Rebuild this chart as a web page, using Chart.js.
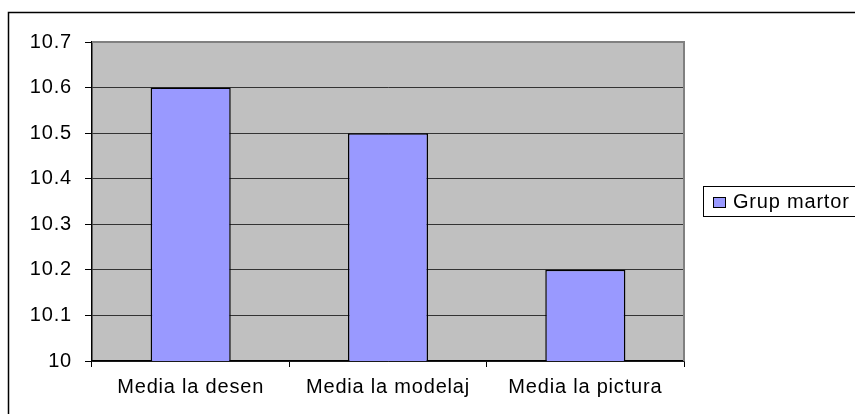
<!DOCTYPE html>
<html>
<head>
<meta charset="utf-8">
<script src="https://cdn.jsdelivr.net/npm/chart.js@4/dist/chart.umd.min.js"></script>
<style>
  html, body { margin: 0; padding: 0; background: #fff; }
  #wrap { width: 855px; height: 414px; position: relative; }
</style>
</head>
<body>
<div id="wrap"><canvas id="barChart"></canvas></div>
<script>
// date
const categories = ['Media la desen', 'Media la modelaj', 'Media la pictura'];
const seriesName = 'Grup martor';
const seriesValues = [10.6, 10.5, 10.2];
const yTickValues = [10, 10.1, 10.2, 10.3, 10.4, 10.5, 10.6, 10.7];

const fontFamily = '"Liberation Sans", Arial, sans-serif';
const fontSize = 20;

// textul din original e putin latit, imitam cu o spatiere mica intre litere
const wideText = {
    id: 'wideText',
    beforeInit(chart) { chart.ctx.letterSpacing = '0.8px'; },
    beforeDraw(chart) { chart.ctx.letterSpacing = '0.8px'; }
};

// fundal gri pentru zona graficului + chenarul exterior
const plotBackground = {
    id: 'plotBackground',
    beforeDraw(chart) {
        const { ctx, chartArea: a } = chart;
        ctx.save();
        ctx.fillStyle = '#C0C0C0';
        ctx.fillRect(a.left, a.top, a.right - a.left, a.bottom - a.top);
        ctx.restore();
    },
    afterDraw(chart) {
        const { ctx, chartArea: a } = chart;
        ctx.save();
        // chenar gri sus si dreapta
        ctx.strokeStyle = '#808080';
        ctx.lineWidth = 2;
        ctx.beginPath();
        ctx.moveTo(a.left, a.top);
        ctx.lineTo(a.right, a.top);
        ctx.lineTo(a.right, a.bottom);
        ctx.stroke();
        // chenar exterior negru
        ctx.strokeStyle = '#000';
        ctx.lineWidth = 1.5;
        ctx.strokeRect(8.5, 12.5, 1000, 600);
        ctx.restore();
    }
};

// legenda cu chenar, ca in original
const boxedLegend = {
    id: 'boxedLegend',
    afterDraw(chart) {
        const { ctx } = chart;
        const ds = chart.data.datasets[0];
        ctx.save();
        ctx.fillStyle = '#fff';
        ctx.fillRect(703, 186, 200, 30);
        ctx.strokeStyle = '#000';
        ctx.lineWidth = 1;
        ctx.strokeRect(703.5, 186.5, 200, 30);
        ctx.fillStyle = ds.backgroundColor;
        ctx.fillRect(713, 197, 12, 10);
        ctx.strokeRect(713.5, 197.5, 12, 10);
        ctx.fillStyle = '#000';
        ctx.font = fontSize + 'px ' + fontFamily;
        ctx.textBaseline = 'alphabetic';
        ctx.fillText(ds.label, 733, 208);
        ctx.restore();
    }
};

new Chart(document.getElementById('barChart'), {
    type: 'bar',
    data: {
        labels: categories,
        datasets: [{
            label: seriesName,
            data: seriesValues,
            backgroundColor: '#9999FF',
            borderColor: '#000',
            borderWidth: 1.5,
            barPercentage: 0.406,
            categoryPercentage: 1
        }]
    },
    options: {
        responsive: true,
        maintainAspectRatio: false,
        animation: false,
        layout: { padding: { left: 0, top: 42, right: 171, bottom: 0 } },
        plugins: {
            legend: { display: false },
            tooltip: { enabled: false }
        },
        scales: {
            x: {
                offset: true,
                grid: {
                    offset: true,
                    drawOnChartArea: false,
                    drawTicks: true,
                    tickLength: 6,
                    color: '#000'
                },
                border: { color: '#000', width: 1.5 },
                ticks: {
                    color: '#000',
                    padding: 8,
                    maxRotation: 0,
                    font: { family: fontFamily, size: fontSize }
                },
                afterFit(axis) { axis.height = 53; }
            },
            y: {
                min: 10,
                max: 10.7,
                grid: {
                    color: '#333',
                    lineWidth: 1,
                    tickLength: 7,
                    tickColor: '#000'
                },
                border: { color: '#000', width: 1.5 },
                ticks: {
                    color: '#000',
                    padding: 13,
                    font: { family: fontFamily, size: fontSize },
                    callback: v => String(Number(v.toFixed(1)))
                },
                afterBuildTicks(axis) {
                    axis.ticks = yTickValues.map(v => ({ value: v }));
                },
                afterFit(axis) { axis.width = 92; }
            }
        }
    },
    plugins: [wideText, plotBackground, boxedLegend]
});
</script>
</body>
</html>
